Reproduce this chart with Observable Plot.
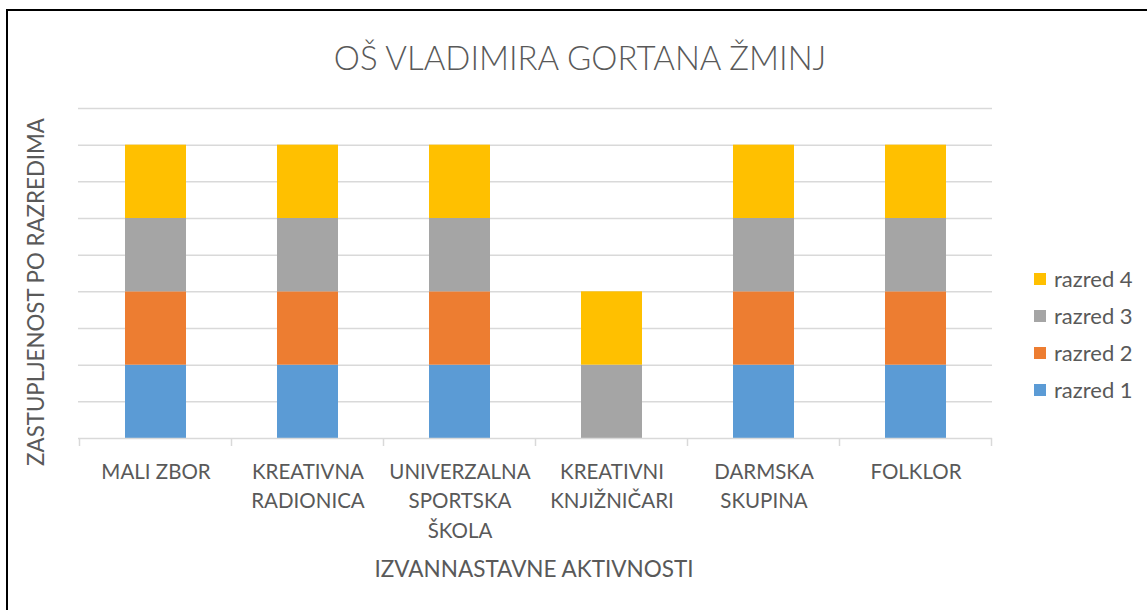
<!DOCTYPE html>
<html>
<head>
<meta charset="utf-8">
<script src="https://cdn.jsdelivr.net/npm/d3@7"></script>
<script src="https://cdn.jsdelivr.net/npm/@observablehq/plot@0.6"></script>
<style>
  html, body { margin: 0; padding: 0; background: #fff; }
  #wrap { position: relative; width: 1147px; height: 610px; overflow: hidden; font-family: Lato, "Open Sans", sans-serif; color: #595959; }
  #chart { position: absolute; left: 0; top: 0; }
  .bt { position: absolute; left: 6px; top: 9px; right: 0; height: 2px; background: #000; }
  .bl { position: absolute; left: 6px; top: 9px; width: 2px; bottom: 0; background: #000; }
  #title { position: absolute; left: 580px; top: 57px; transform: translate(-50%, -50%); font-size: 33px; font-weight: 300; white-space: nowrap; }
  #ytitle { position: absolute; left: 35px; top: 292px; transform: translate(-50%, -50%) rotate(-90deg); font-size: 22.3px; white-space: nowrap; }
  #xtitle { position: absolute; left: 534px; top: 568px; transform: translate(-50%, -50%); font-size: 22.5px; white-space: nowrap; }
  #legend { position: absolute; left: 1034px; top: 267px; }
  .li { height: 37px; display: flex; align-items: flex-start; font-size: 22px; line-height: 24px; }
  .sw { width: 12px; height: 12px; margin-top: 6px; margin-right: 8px; }
</style>
</head>
<body>
<div id="wrap">
  <div id="chart"></div>
  <div class="bt"></div>
  <div class="bl"></div>
  <div id="title"></div>
  <div id="ytitle"></div>
  <div id="xtitle"></div>
  <div id="legend"></div>
</div>
<script>
// ---- data ----
const titleText = "OŠ VLADIMIRA GORTANA ŽMINJ";
const yTitle = "ZASTUPLJENOST PO RAZREDIMA";
const xTitle = "IZVANNASTAVNE AKTIVNOSTI";
const categories = ["MALI ZBOR", "KREATIVNA RADIONICA", "UNIVERZALNA SPORTSKA ŠKOLA", "KREATIVNI KNJIŽNIČARI", "DARMSKA SKUPINA", "FOLKLOR"];
const tickLabels = ["MALI ZBOR", "KREATIVNA\nRADIONICA", "UNIVERZALNA\nSPORTSKA\nŠKOLA", "KREATIVNI\nKNJIŽNIČARI", "DARMSKA\nSKUPINA", "FOLKLOR"];
const seriesNames = ["razred 1", "razred 2", "razred 3", "razred 4"];
const razred1 = [1, 1, 1, 0, 1, 1];
const razred2 = [1, 1, 1, 0, 1, 1];
const razred3 = [1, 1, 1, 1, 1, 1];
const razred4 = [1, 1, 1, 1, 1, 1];
const seriesColors = ["#5B9BD5", "#ED7D31", "#A5A5A5", "#FFC000"];
const gridValues = [0.5, 1, 1.5, 2, 2.5, 3, 3.5, 4, 4.5];

// ---- build table ----
const seriesValues = [razred1, razred2, razred3, razred4];
const rows = [];
seriesNames.forEach((s, si) => {
  categories.forEach((c, ci) => rows.push({category: c, series: s, value: seriesValues[si][ci]}));
});
const labelOf = new Map(categories.map((c, i) => [c, tickLabels[i]]));

const chart = Plot.plot({
  width: 1147,
  height: 610,
  marginLeft: 78,
  marginRight: 155,
  marginTop: 108,
  marginBottom: 172,
  style: {fontFamily: "Lato, 'Open Sans', sans-serif", color: "#595959", background: "transparent"},
  x: {domain: categories, paddingInner: 0.6, paddingOuter: 0.3, label: null},
  y: {domain: [0, 4.5], label: null},
  color: {domain: seriesNames, range: seriesColors},
  marks: [
    Plot.ruleY(gridValues, {stroke: "#D9D9D9", strokeWidth: 1.5}),
    Plot.barY(rows.filter(d => d.value > 0), {x: "category", y: "value", fill: "series", order: seriesNames}),
    Plot.ruleY([0], {stroke: "#D9D9D9", strokeWidth: 1.5}),
    Plot.axisX({tickSize: 0, tickPadding: 19, fontSize: 20.5, lineHeight: 1.45, fill: "#595959", tickFormat: d => labelOf.get(d), label: null}),
    Plot.axisY({ticks: [], label: null})
  ]
});
document.getElementById("chart").appendChild(chart);

// category boundary ticks below the baseline, placed with the plot's own scales
const sx = chart.scale("x");
const sy = chart.scale("y");
const y0 = sy.apply(0);
const bounds = categories.map(c => sx.apply(c) + sx.bandwidth / 2 - sx.step / 2);
bounds.push(sx.apply(categories[categories.length - 1]) + sx.bandwidth / 2 + sx.step / 2);
d3.select(chart).append("g").selectAll("line").data(bounds).join("line")
  .attr("x1", d => d).attr("x2", d => d)
  .attr("y1", y0).attr("y2", y0 + 8)
  .attr("stroke", "#D9D9D9").attr("stroke-width", 1.5);

// ---- texts & legend ----
document.getElementById("title").textContent = titleText;
document.getElementById("ytitle").textContent = yTitle;
document.getElementById("xtitle").textContent = xTitle;
const legend = document.getElementById("legend");
seriesNames.slice().reverse().forEach(s => {
  const i = seriesNames.indexOf(s);
  const item = document.createElement("div");
  item.className = "li";
  const sw = document.createElement("div");
  sw.className = "sw";
  sw.style.background = seriesColors[i];
  const t = document.createElement("span");
  t.textContent = s;
  item.appendChild(sw); item.appendChild(t);
  legend.appendChild(item);
});
</script>
</body>
</html>
